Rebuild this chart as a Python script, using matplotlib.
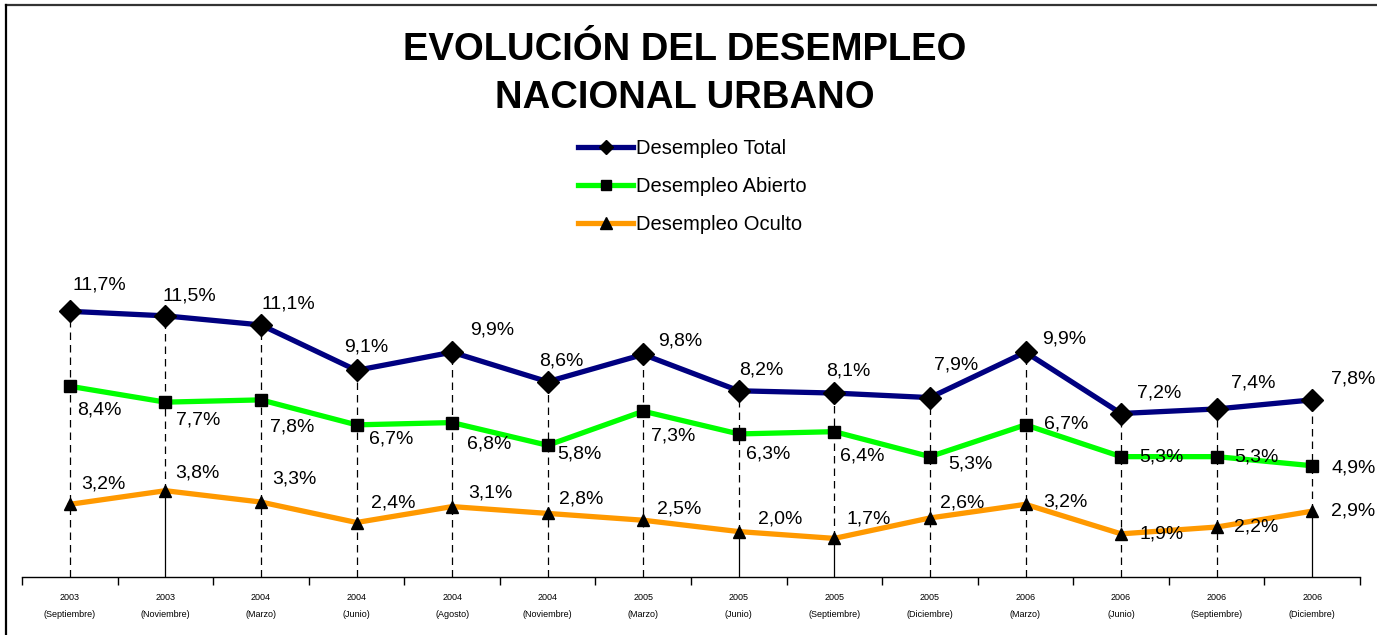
import matplotlib
matplotlib.use("Agg")
import matplotlib.pyplot as plt
from matplotlib.lines import Line2D

plt.rcParams['font.family'] = ['Liberation Sans', 'DejaVu Sans']

years = ["2003", "2003", "2004", "2004", "2004", "2004", "2005", "2005",
         "2005", "2005", "2006", "2006", "2006", "2006"]
months = ["Septiembre", "Noviembre", "Marzo", "Junio", "Agosto", "Noviembre",
          "Marzo", "Junio", "Septiembre", "Diciembre", "Marzo", "Junio",
          "Septiembre", "Diciembre"]
total = [11.7, 11.5, 11.1, 9.1, 9.9, 8.6, 9.8, 8.2, 8.1, 7.9, 9.9, 7.2, 7.4, 7.8]
abierto = [8.4, 7.7, 7.8, 6.7, 6.8, 5.8, 7.3, 6.3, 6.4, 5.3, 6.7, 5.3, 5.3, 4.9]
oculto = [3.2, 3.8, 3.3, 2.4, 3.1, 2.8, 2.5, 2.0, 1.7, 2.6, 3.2, 1.9, 2.2, 2.9]
series_names = ["Desempleo Total", "Desempleo Abierto", "Desempleo Oculto"]
title = "EVOLUCIÓN DEL DESEMPLEO\nNACIONAL URBANO"

# label offsets in pixels (dx, dy with dy upward)
off_total = [(30, 26), (24, 20), (27, 21), (10, 23), (40, 22), (14, 21), (37, 13),
             (23, 21), (14, 22), (26, 33), (39, 13), (38, 20), (37, 26), (41, 21)]
off_abierto = [(30, -24), (33, -18), (31, -27), (35, -14), (37, -21), (32, -9), (30, -25),
               (29, -20), (28, -24), (40, -7), (41, 1), (40, 0), (40, 0), (41, -2)]
off_oculto = [(34, 20), (32, 18), (33, 23), (37, 19), (38, 14), (34, 14), (36, 11),
              (41, 13), (34, 19), (32, 15), (40, 2), (41, 0), (40, 0), (41, 0)]
solid_drop = {1, 7, 8, 13}

W, H = 1377, 635
fig = plt.figure(figsize=(W / 100, H / 100), dpi=100)
ax = fig.add_axes([22 / W, 1 - 577 / H, (1360 - 22) / W, (577 - 250) / H])

x = list(range(len(total)))
ax.set_xlim(-0.5, len(total) - 0.5)
ax.set_ylim(0, 14.4)

# drop lines
for i in x:
    if i in solid_drop:
        ax.plot([i, i], [oculto[i], total[i]], color='black', lw=0.9,
                ls=(0, (6, 4)), zorder=1)
        ax.plot([i, i], [0, oculto[i]], color='black', lw=0.9, zorder=1)
    else:
        ax.plot([i, i], [0, total[i]], color='black', lw=0.9,
                ls=(0, (6, 4)), zorder=1)

specs = [
    (total, '#000080', 'D', 11.2, 7.2, off_total),
    (abierto, '#00FF00', 's', 8, 7, off_abierto),
    (oculto, '#FF9900', '^', 9, 8.5, off_oculto),
]
handles = []
for (vals, col, mk, ms, lms, offs), name in zip(specs, series_names):
    ax.plot(x, vals, color=col, lw=3.8, zorder=2, solid_capstyle='round')
    ax.plot(x, vals, ls='none', marker=mk, ms=ms, color='black', zorder=3)
    for i, v in enumerate(vals):
        ax.annotate(f"{v:.1f}%".replace('.', ','), (i, v),
                    xytext=offs[i], textcoords='offset pixels',
                    ha='center', va='center', fontsize=14, color='black', zorder=4)
    handles.append(Line2D([0], [0], color=col, lw=3.8, marker=mk,
                          ms=lms, mfc='black', mec='black'))

# axes styling
for s in ['top', 'right', 'left']:
    ax.spines[s].set_visible(False)
ax.spines['bottom'].set_linewidth(1.0)
ax.set_yticks([])
ax.set_xticks([i - 0.5 for i in range(len(total) + 1)])
ax.set_xticklabels([])
ax.tick_params(axis='x', length=6, width=1, direction='out')
for i in x:
    ax.text(i, -0.9, years[i], ha='center', va='center', fontsize=6.5,
            transform=ax.transData, clip_on=False)
    ax.text(i, -1.65, f"({months[i]})", ha='center', va='center', fontsize=6.5,
            transform=ax.transData, clip_on=False)

# title
fig.text(685 / W, 1 - 74 / H, title, ha='center', va='center',
         fontsize=27.5, fontweight='bold', linespacing=1.45)

# legend
fig.legend(handles, series_names, loc='upper left',
           bbox_to_anchor=(570 / W, 1 - 131 / H), frameon=False,
           fontsize=14.5, handlelength=2.75, handletextpad=0.12,
           labelspacing=0.95, borderaxespad=0)

# frame
fig.add_artist(Line2D([6 / W, 1], [1 - 5 / H, 1 - 5 / H], color='#333333', lw=1.6,
                      transform=fig.transFigure))
fig.add_artist(Line2D([6 / W, 6 / W], [0, 1 - 5 / H], color='black', lw=1.6,
                      transform=fig.transFigure))

fig.savefig("out.png", dpi=100)
